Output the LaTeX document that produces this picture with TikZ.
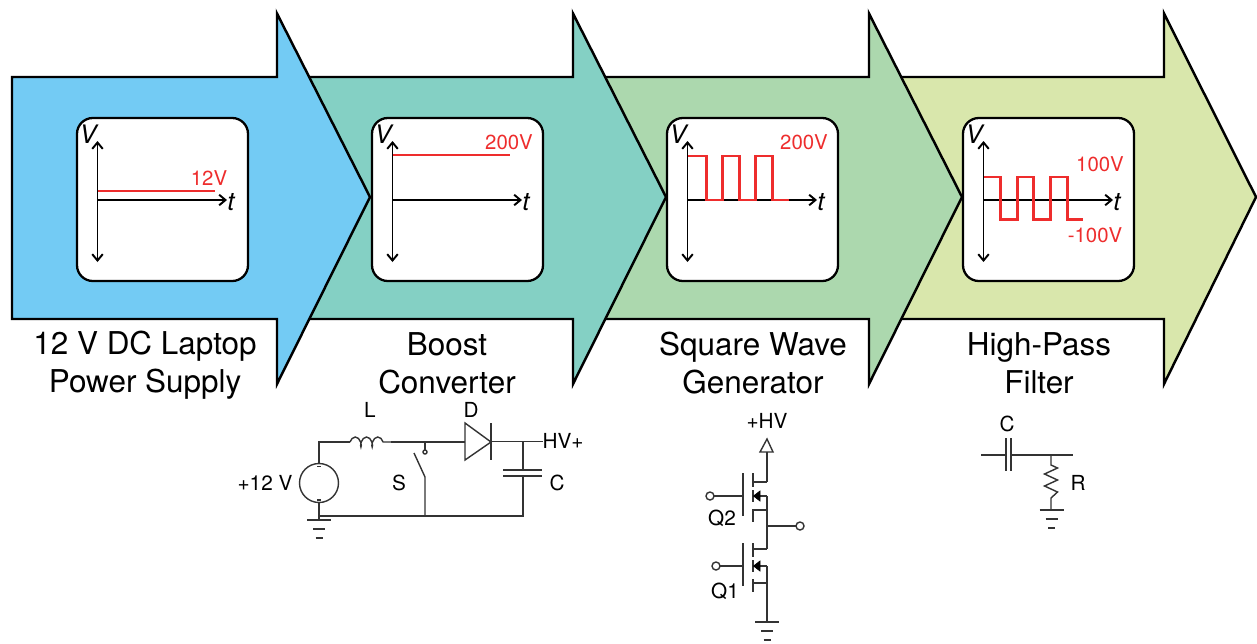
\documentclass[tikz,border=0pt]{standalone}
\usepackage{fontspec}
\setmainfont{TeX Gyre Heros}
\usetikzlibrary{arrows.meta,decorations.pathmorphing}
\definecolor{supplyblue}{HTML}{73CBF4}
\definecolor{boostteal}{HTML}{84D0C4}
\definecolor{squaregreen}{HTML}{ACD8AE}
\definecolor{filterlime}{HTML}{D9E7AC}
\definecolor{tracered}{HTML}{EE2D2D}
\definecolor{wiregray}{HTML}{333333}
\tikzset{
	stagearrow/.style={draw=black, line width=1.4pt},
	panelbox/.style={draw=black, fill=white, line width=1.3pt, rounded corners=9pt},
	axisline/.style={line width=1.1pt, {Straight Barb[length=3.6pt,width=6pt]}-{Straight Barb[length=3.6pt,width=6pt]}},
	axisend/.style={line width=1.1pt, -{Straight Barb[length=3.6pt,width=6pt]}},
	trace/.style={draw=tracered, line width=1.7pt},
	tracelabel/.style={text=tracered, font=\fontsize{11.6}{13}\selectfont, inner sep=0pt},
	axislabel/.style={font=\fontsize{14.5}{16}\itshape, inner sep=0pt},
	stagelabel/.style={align=center, font=\fontsize{17.9}{21.5}\selectfont, inner sep=0pt},
	wire/.style={draw=wiregray, line width=0.8pt},
	partlabel/.style={font=\fontsize{11.8}{13}\selectfont, inner sep=0pt}
}
% left end, back of the head, tip
\def\flowarrow[#1](#2:#3:#4){\draw[stagearrow, fill=#1] (#2, 77) -- (#3, 77) -- (#3, 13.5) -- (#4, 197) -- (#3, 384) -- (#3, 319) -- (#2, 319) -- cycle;}
% name and left edge of a panel
\def\voltpanel(#1:#2){
	\draw[panelbox] (#2, 118) rectangle ({#2+171}, 281);
	\draw[axisline] ({#2+20.5}, 141) -- ({#2+20.5}, 262);
	\draw[axisend] ({#2+20.5}, 200) -- ({#2+150}, 200);
	\node[axislabel] (#1V) at ({#2+11}, 134) {V};
	\node[axislabel] (#1t) at ({#2+154}, 202) {t};
}
\def\groundbars(#1, #2){
	\draw[wire] ({#1-12}, #2) -- ({#1+12}, #2);
	\draw[wire] ({#1-6}, {#2+9}) -- ({#1+6}, {#2+9});
	\draw[wire] ({#1-3.5}, {#2+18}) -- ({#1+3.5}, {#2+18});
}
% gate wire height, drain and source heights, gate end
\def\halfbridgefet(#1:#2:#3:#4){
	\draw[wire, line width=0.9pt] (743, {#1-23}) -- (743, {#1+20});
	\draw[wire, line width=0.9pt] (753, {#1-23}) -- (753, {#1-9});
	\draw[wire, line width=0.9pt] (753, {#1-6}) -- (753, {#1+6});
	\draw[wire, line width=0.9pt] (753, {#1+13}) -- (753, {#1+26});
	\draw[wire] (753, #2) -- (767, #2);
	\draw[wire] (753, #3) -- (767, #3);
	\draw[wire] (767, #1) -- (753, #1);
	\draw[fill=black] (753.5, #1) -- (760, {#1-5}) -- (760, {#1+5}) -- cycle;
	\draw[wire] (#4, #1) -- (743, #1);
}

\begin{document}
\begin{tikzpicture}[x=0.02cm, y=-0.02cm]
		%%%%% FRAME %%%%%
		\useasboundingbox (0, 0) rectangle (1257, 643);

		%%%%% ARROWS %%%%%
		\flowarrow[filterlime](880:1164:1256);
		\flowarrow[squaregreen](590:869:962);
		\flowarrow[boostteal](300:573:666);
		\flowarrow[supplyblue](12:277:370);

		%%%%% PANELS %%%%%
		\voltpanel(supply:77);
		\draw[trace] (97.5, 191) -- (215, 191);
		\node[tracelabel] (supplyvolt) at (209, 178) {12V};

		\voltpanel(boost:372);
		\draw[trace] (392.5, 155) -- (510, 155);
		\node[tracelabel] (boostvolt) at (509, 142) {200V};

		\voltpanel(square:667);
		\draw[trace] (688, 156) -- (706, 156) -- (706, 200) -- (722, 200) -- (722, 156) -- (739, 156) -- (739, 200) -- (755, 200) -- (755, 156) -- (772, 156) -- (772, 200) -- (789, 200);
		\node[tracelabel] (squarevolt) at (804, 142) {200V};

		\voltpanel(filter:963);
		\draw[trace] (984, 177) -- (1000, 177) -- (1000, 219) -- (1017, 219) -- (1017, 177) -- (1033, 177) -- (1033, 219) -- (1050, 219) -- (1050, 177) -- (1067, 177) -- (1067, 219) -- (1083, 219);
		\node[tracelabel] (filterhigh) at (1100, 164) {100V};
		\node[tracelabel] (filterlow) at (1095, 235) {-100V};

		%%%%% STAGE NAMES %%%%%
		\node[stagelabel] (supplyname) at (145, 365) {12 V DC Laptop\\Power Supply};
		\node[stagelabel] (boostname) at (447, 363) {Boost\\Converter};
		\node[stagelabel] (squarename) at (753, 363) {Square Wave\\Generator};
		\node[stagelabel] (filtername) at (1039, 363) {High-Pass\\Filter};

		%%%%% BOOST CIRCUIT %%%%%
		\draw[wire] (319, 483) circle (19.5);
		\draw[wire] (317, 466.5) -- (321, 466.5);
		\draw[wire] (317, 500) -- (321, 500);
		\draw[wire] (319, 463.5) -- (319, 442) -- (350, 442);
		\draw[wire, decorate, decoration={coil, aspect=0.5, segment length=6.4pt, amplitude=0.1cm}] (350, 442) -- (391, 442);
		\draw[wire] (391, 442) -- (465, 442);
		\draw[wire] (425, 442) -- (425, 450);
		\draw[wire] (425, 452) circle (2);
		\draw[wire] (414, 453) -- (425, 477) -- (425, 516);
		\draw[wire] (465, 423) -- (465, 460) -- (491, 442) -- cycle;
		\draw[wire] (491, 423) -- (491, 460);
		\draw[wire] (491, 441.5) -- (543, 441.5);
		\draw[wire] (523, 441.5) -- (523, 470);
		\draw[wire] (503, 470) -- (542, 470);
		\draw[wire] (503, 476) -- (542, 476);
		\draw[wire] (523, 476) -- (523, 516) -- (319, 516);
		\draw[wire] (319, 502.5) -- (319, 520);
		\groundbars(319, 520);
		\node[partlabel] (boostsource) at (265, 483) {+12 V};
		\node[partlabel] (boostL) at (370, 410) {L};
		\node[partlabel] (boostD) at (471, 410) {D};
		\node[partlabel] (boostS) at (399, 483) {S};
		\node[partlabel] (boostC) at (557, 483) {C};
		\node[partlabel] (boostout) at (563, 441) {HV+};

		%%%%% BRIDGE CIRCUIT %%%%%
		\node[partlabel] (bridgerail) at (767, 421) {+HV};
		\draw[wire] (767, 439) -- (760, 452) -- (773, 452) -- cycle;
		\draw[wire] (767, 452) -- (767, 482);
		\halfbridgefet(496:482:510:714);
		\draw[wire] (710, 496) circle (4);
		\draw[wire] (767, 496) -- (767, 549);
		\draw[wire] (767, 526) -- (796, 526);
		\draw[wire] (800, 526) circle (4);
		\halfbridgefet(566:549:583:720);
		\draw[wire] (716, 566) circle (4);
		\draw[wire] (767, 566) -- (767, 622);
		\groundbars(767, 622);
		\node[partlabel] (bridgeQtwo) at (722, 518) {Q2};
		\node[partlabel] (bridgeQone) at (725, 591) {Q1};

		%%%%% FILTER CIRCUIT %%%%%
		\draw[wire] (981, 455) -- (1006, 455);
		\draw[wire] (1006, 438) -- (1006, 471);
		\draw[wire] (1011, 438) -- (1011, 471);
		\draw[wire] (1011, 455) -- (1073, 455);
		\draw[wire] (1051, 455) -- (1051, 465) -- (1057.5, 468) -- (1044.5, 474) -- (1057.5, 480) -- (1044.5, 486) -- (1057.5, 492) -- (1051, 498) -- (1051, 510);
		\groundbars(1051.5, 510);
		\node[partlabel] (filterC) at (1007, 424) {C};
		\node[partlabel] (filterR) at (1078, 483) {R};
	\end{tikzpicture}
\end{document}
